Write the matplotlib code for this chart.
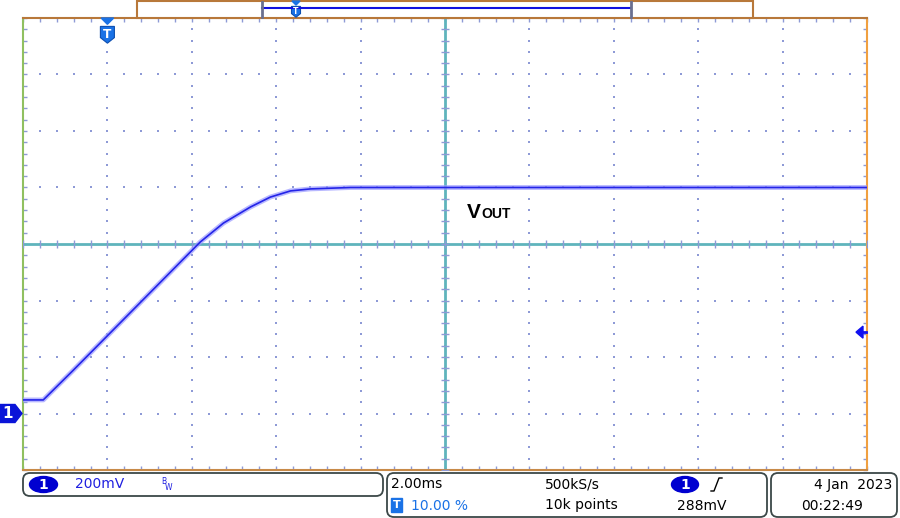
import numpy as np
import matplotlib.pyplot as plt
from matplotlib.patches import Polygon, Rectangle, FancyBboxPatch, Ellipse

# scope settings
time_per_div = 2.0      # ms
volt_per_div = 200.0    # mV
trig_level = 288.0      # mV
trig_time = 0.0         # ms, 10% of record

# trace (ms, mV)
t_ms = [-2.0, -1.52, -0.83, 2.20, 2.75, 3.39, 3.86, 4.34, 4.81, 5.76, 18.0]
v_mv = [48, 48, 150, 607, 674, 731, 766, 788, 795, 800, 800]

W, H = 900, 518
fig = plt.figure(figsize=(W / 100, H / 100), dpi=100)
fig.patch.set_facecolor('white')

# main screen area
ax = fig.add_axes([23 / W, 48 / H, 844 / W, 452 / H])
xmin, xmax = -2.0, 18.0
ymin, ymax = -200.0, 1400.0
ax.set_xlim(xmin, xmax)
ax.set_ylim(ymin, ymax)
xc, yc = (xmin + xmax) / 2, (ymin + ymax) / 2

# frame colours like the scope screen
ax.spines['top'].set_color('#b8783a')
ax.spines['right'].set_color('#f0a040')
ax.spines['left'].set_color('#90c060')
ax.spines['bottom'].set_color('#c88a48')
for s in ax.spines.values():
    s.set_linewidth(1.5)

# small ticks around the edge at every minor division
minor_x = np.arange(xmin, xmax + 0.01, time_per_div / 5)
minor_y = np.arange(ymin, ymax + 0.01, volt_per_div / 5)
ax.set_xticks(minor_x)
ax.set_yticks(minor_y)
ax.tick_params(direction='in', length=3, width=1, color='#8e9ad6',
               top=True, right=True, labelbottom=False, labelleft=False)

# dotted graticule
dot_col = '#8e9ad6'
major_x = np.arange(xmin + time_per_div, xmax, time_per_div)
major_y = np.arange(ymin + volt_per_div, ymax, volt_per_div)
for gx in major_x:
    ax.scatter(np.full(len(minor_y), gx), minor_y, s=1.0, color=dot_col,
               marker='s', linewidths=0, zorder=1)
for gy in major_y:
    ax.scatter(minor_x, np.full(len(minor_x), gy), s=1.0, color=dot_col,
               marker='s', linewidths=0, zorder=1)

# centre cross with its tick marks
ax.axhline(yc, color='#5fb4bc', lw=2, zorder=2)
ax.axvline(xc, color='#5fb4bc', lw=2, zorder=2)
ax.scatter(minor_x, np.full(len(minor_x), yc), marker='|', s=30,
           color=dot_col, linewidths=1, zorder=3)
ax.scatter(np.full(len(minor_y), xc), minor_y, marker='_', s=30,
           color=dot_col, linewidths=1, zorder=3)

# the trace: a soft noisy band plus the core line
ax.plot(t_ms, v_mv, color='#9a9aff', lw=3.5, alpha=0.7, zorder=4,
        solid_joinstyle='round')
ax.plot(t_ms, v_mv, color='#2424e8', lw=1.2, zorder=5)

# overlay in pixel coordinates for the scope decorations
ov = fig.add_axes([0, 0, 1, 1], zorder=10)
ov.set_xlim(0, W)
ov.set_ylim(H, 0)
ov.axis('off')
ov.patch.set_alpha(0)


def to_px(x, y):
    px, py = ax.transData.transform((x, y))
    return px, H - py


lab_font = ['Liberation Sans', 'DejaVu Sans']

# VOUT label
ov.text(467, 218, 'V', fontsize=15, fontweight='bold', family=lab_font,
        color='black', va='baseline')
ov.text(481, 218, 'OUT', fontsize=10, fontweight='bold', family=lab_font,
        color='black', va='baseline')

# trigger position marker
tx, _ = to_px(trig_time, 0)
blue_t = '#1a72e6'


def t_marker(x, top, size):
    tri = Polygon([(x - size * 0.45, top), (x + size * 0.45, top),
                   (x, top + size * 0.45)], color=blue_t)
    sh = Polygon([(x - size * 0.5, top + size * 0.6), (x + size * 0.5, top + size * 0.6),
                  (x + size * 0.5, top + size * 1.4), (x, top + size * 1.8),
                  (x - size * 0.5, top + size * 1.4)],
                 facecolor=blue_t, edgecolor='#0d4fb0', lw=0.8)
    ov.add_patch(tri)
    ov.add_patch(sh)
    ov.text(x, top + size * 1.15, 'T', color='white', fontsize=size * 0.62,
            fontweight='bold', ha='center', va='center')


t_marker(tx, 18, 14)

# record bar at the top
ov.add_patch(Rectangle((137, 0.5), 616, 17.5, facecolor='white',
                       edgecolor='#b8783a', lw=1.5))
ov.plot([262, 631], [8, 8], color='#1010e0', lw=1.5)
for bx in (262, 631):
    ov.plot([bx, bx], [1.5, 16.5], color='#6a7090', lw=2)
t_marker(296, 1, 9)

# ground marker for channel 1
_, gy = to_px(0, 0)
ov.add_patch(Polygon([(0, gy - 9), (15, gy - 9), (22, gy), (15, gy + 9), (0, gy + 9)],
                     color='#0a14d8'))
ov.text(8, gy + 0.5, '1', color='white', fontsize=11, fontweight='bold',
        ha='center', va='center')

# trigger level arrow on the right edge
_, ly = to_px(0, trig_level)
ov.add_patch(Polygon([(856, ly), (863, ly - 6), (863, ly + 6)], color='#1010f0'))
ov.plot([862, 866], [ly, ly], color='#1010f0', lw=2)

# status bar boxes
box_kw = dict(boxstyle='round,pad=0,rounding_size=7', facecolor='white',
              edgecolor='#3c4848', lw=1.3)
ov.add_patch(FancyBboxPatch((23, 473), 360, 23, **box_kw))
ov.add_patch(FancyBboxPatch((387, 473), 380, 44, **box_kw))
ov.add_patch(FancyBboxPatch((771, 473), 126, 44, **box_kw))

fs = 10
row1, row2 = 484.5, 505.5
dark_blue = '#0000d0'
text_blue = '#2020e0'

ov.add_patch(Ellipse((43.5, 484.5), 28, 16, color=dark_blue))
ov.text(43.5, 485, '1', color='white', fontsize=fs, fontweight='bold',
        ha='center', va='center')
ov.text(75, row1, '%gmV' % volt_per_div, color=text_blue, fontsize=fs, va='center')
ov.text(161, 482, 'B', color=text_blue, fontsize=5.5, va='center')
ov.text(165, 487, 'W', color=text_blue, fontsize=5.5, va='center')

ov.text(391, row1, '%.2fms' % time_per_div, color='black', fontsize=fs, va='center')
ov.add_patch(Rectangle((391, 498), 11, 14, color=blue_t))
ov.text(396.5, 505.5, 'T', color='white', fontsize=8, fontweight='bold',
        ha='center', va='center')
ov.text(411, row2, '10.00 %', color=blue_t, fontsize=fs, va='center')
ov.text(545, row1, '500kS/s', color='black', fontsize=fs, va='center')
ov.text(545, row2, '10k points', color='black', fontsize=fs, va='center')
ov.add_patch(Ellipse((685, 484.5), 27, 16, color=dark_blue))
ov.text(685, 485, '1', color='white', fontsize=fs, fontweight='bold',
        ha='center', va='center')
ov.plot([711, 714, 719, 722], [491, 491, 478, 478], color='black', lw=1)
ov.text(677, row2, '%gmV' % trig_level, color='black', fontsize=fs, va='center')

ov.text(892, row1, '4 Jan  2023', color='black', fontsize=fs, ha='right', va='center')
ov.text(801, row2, '00:22:49', color='black', fontsize=fs, va='center')

fig.savefig('out.png', dpi=100)
